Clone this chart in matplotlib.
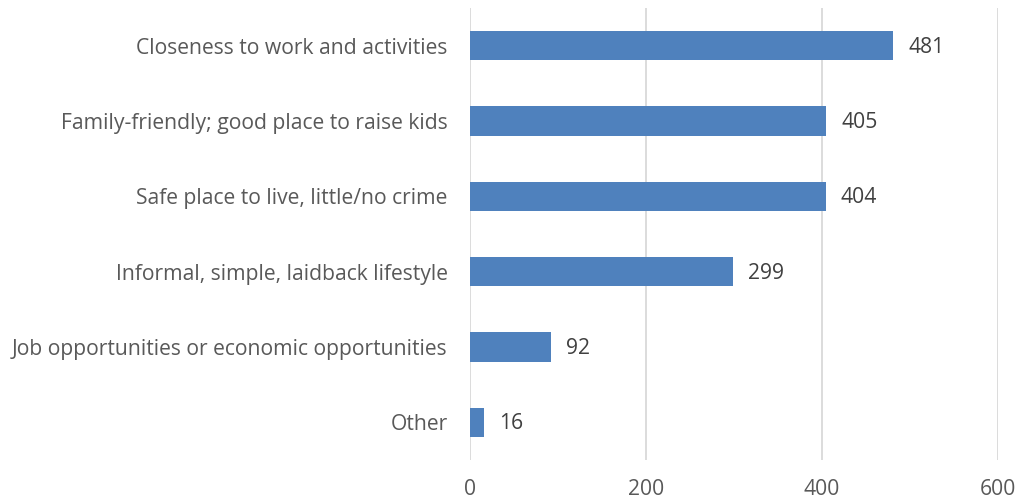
import matplotlib
matplotlib.use("Agg")
import matplotlib.pyplot as plt

categories = ["Closeness to work and activities",
              "Family-friendly; good place to raise kids",
              "Safe place to live, little/no crime",
              "Informal, simple, laidback lifestyle",
              "Job opportunities or economic opportunities",
              "Other"]
values = [481, 405, 404, 299, 92, 16]
xticks = [0, 200, 400, 600]

plt.rcParams['font.family'] = ['Open Sans', 'DejaVu Sans']
text_color = '#595959'
value_color = '#404040'

fig = plt.figure(figsize=(10.27, 5.03), dpi=100)
ax = fig.add_axes([470/1027, 1-460/503, 528/1027, 452/503])

ypos = list(range(len(categories)))
ax.barh(ypos, values, height=0.39, color='#4F81BD', zorder=3)
ax.set_ylim(len(categories)-0.5, -0.5)
ax.set_xlim(0, 600)
ax.set_xticks(xticks)
ax.set_yticks(ypos)
ax.set_yticklabels(categories)
ax.xaxis.grid(True, color='#D9D9D9', linewidth=1.3, zorder=0)
for s in ax.spines.values():
    s.set_visible(False)
ax.tick_params(axis='both', length=0, labelcolor=text_color, labelsize=15.2)
ax.tick_params(axis='y', pad=16)
ax.tick_params(axis='x', pad=14)
for y, v in zip(ypos, values):
    ax.annotate(str(v), (v, y), xytext=(11, -1), textcoords='offset points',
                va='center', ha='left', color=value_color, fontsize=15.2)

fig.savefig('out.png', dpi=100)
